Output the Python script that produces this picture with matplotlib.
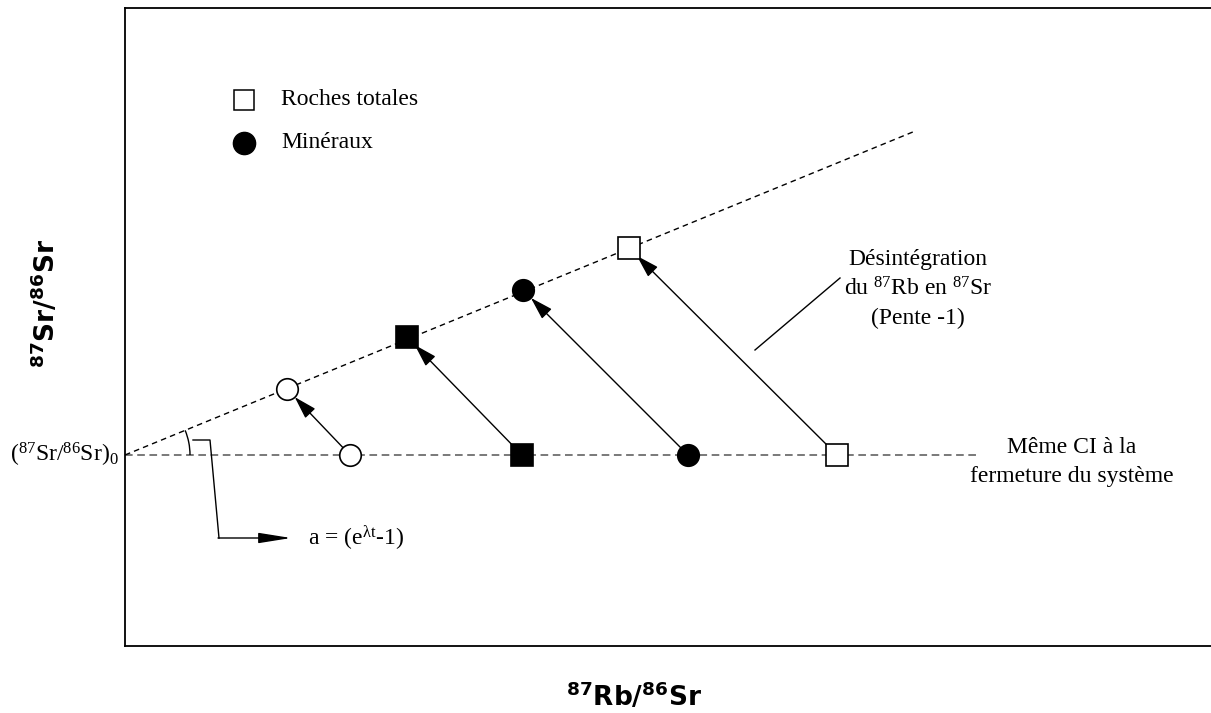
import numpy as np
import matplotlib
matplotlib.use('Agg')
import matplotlib.pyplot as plt
from matplotlib.patches import Arc

plt.rcParams['font.family'] = ['Liberation Serif', 'DejaVu Serif']
plt.rcParams['mathtext.fontset'] = 'custom'
plt.rcParams['mathtext.rm'] = 'Liberation Serif'
plt.rcParams['mathtext.it'] = 'Liberation Serif:italic'

# rapport initial (87Sr/86Sr)0 et pente de l'isochrone
sr_init = 1.91
pente_iso = 0.41
x_fin_iso = 7.90
x_fin_ci = 8.53

# points au moment de la fermeture (87Rb/86Sr)
rb_init = [2.25, 3.97, 5.63, 7.12]
# points actuels après désintégration
rb_now = [1.62, 2.82, 3.98, 5.04]
sr_now = [2.57, 3.09, 3.56, 3.98]

# style des points : cercle vide, carré plein, cercle plein, carré vide
marqueurs = ['o', 's', 'o', 's']
remplis = ['white', 'black', 'black', 'white']

fig = plt.figure(figsize=(12.11, 7.13), dpi=100)
ax = fig.add_axes([125 / 1211, 67 / 713, 1086 / 1211, 638 / 713])
ax.set_xlim(0, 10.86)
ax.set_ylim(0, 6.38)
ax.set_xticks([])
ax.set_yticks([])
ax.spines['right'].set_visible(False)
for s in ['left', 'top', 'bottom']:
    ax.spines[s].set_linewidth(1.3)

# ligne horizontale : même CI
ax.plot([0, x_fin_ci], [sr_init, sr_init], ls=(0, (5, 3)), color='#555555', lw=1.1, zorder=1)
# isochrone
xi = np.array([0, x_fin_iso])
ax.plot(xi, sr_init + pente_iso * xi, ls=(0, (4, 3)), color='black', lw=1.0, zorder=1)

# flèches de désintégration (pente -1)
for x0, x1, y1 in zip(rb_init, rb_now, sr_now):
    ax.annotate('', xy=(x1, y1), xytext=(x0, sr_init),
                arrowprops=dict(arrowstyle='-|>,head_length=1.4,head_width=0.42',
                                color='black', lw=1.0, shrinkA=7, shrinkB=8))

for x0, x1, y1, m, fc in zip(rb_init, rb_now, sr_now, marqueurs, remplis):
    ax.plot(x0, sr_init, marker=m, ms=15.5, mfc=fc, mec='black', mew=1.2, zorder=3)
    ax.plot(x1, y1, marker=m, ms=15.5, mfc=fc, mec='black', mew=1.2, zorder=3)

# légende
ax.plot(1.19, 5.46, marker='s', ms=15, mfc='white', mec='black', mew=1.1)
ax.plot(1.19, 5.03, marker='o', ms=16, mfc='black', mec='black')
ax.text(1.56, 5.46, 'Roches totales', fontsize=17, va='center', ha='left')
ax.text(1.56, 5.03, 'Minéraux', fontsize=17, va='center', ha='left')

# angle a
ang = np.degrees(np.arctan(pente_iso))
ax.add_patch(Arc((0, sr_init), 1.3, 1.3, theta1=0, theta2=ang, color='black', lw=1.0))
ax.plot([0.68, 0.85, 0.94], [2.06, 2.06, 1.08], color='black', lw=1.0)
ax.annotate('', xy=(1.66, 1.08), xytext=(0.93, 1.08),
            arrowprops=dict(arrowstyle='-|>,head_length=2.0,head_width=0.32',
                            color='black', lw=1.0, shrinkA=0, shrinkB=0))
ax.text(1.83, 1.08, r'a = (e$^{\mathrm{\lambda t}}$-1)', fontsize=17, va='center', ha='left')

ax.text(-0.06, sr_init, r'($^{87}$Sr/$^{86}$Sr)$_0$', fontsize=17, va='center', ha='right')

# désintégration
ax.plot([6.30, 7.15], [2.96, 3.68], color='black', lw=1.0)
ax.text(7.93, 3.57, 'Désintégration\ndu $^{87}$Rb en $^{87}$Sr\n(Pente -1)', fontsize=17,
        ha='center', va='center', linespacing=1.4)

ax.text(9.47, 1.84, 'Même CI à la\nfermeture du système', fontsize=17,
        ha='center', va='center', linespacing=1.55)

# titres des axes
fig.text(634 / 1211, 1 - 697 / 713, r'$^{\mathbf{87}}$Rb/$^{\mathbf{86}}$Sr', fontsize=19,
         fontweight='bold', family='DejaVu Sans', ha='center', va='center',
         math_fontfamily='dejavusans')
fig.text(46 / 1211, 1 - 304 / 713, r'$^{\mathbf{87}}$Sr/$^{\mathbf{86}}$Sr', fontsize=19,
         fontweight='bold', family='DejaVu Sans', ha='center', va='center', rotation=90,
         math_fontfamily='dejavusans')

fig.savefig('out.png', dpi=100)
